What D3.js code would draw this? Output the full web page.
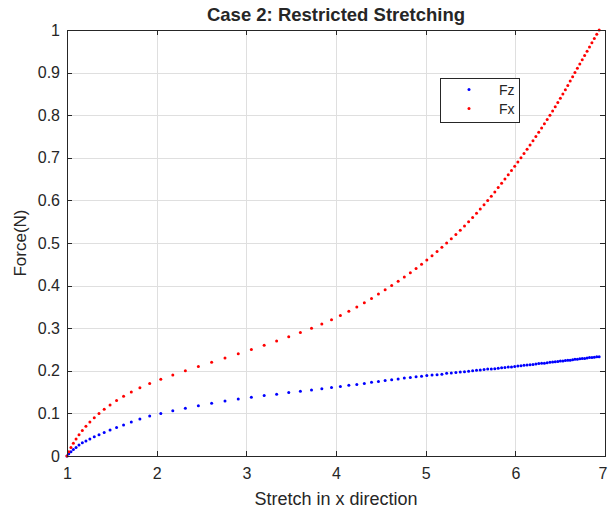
<!DOCTYPE html>
<html>
<head>
<meta charset="utf-8">
<script src="https://cdn.jsdelivr.net/npm/d3@7/dist/d3.min.js"></script>
<style>
  body { margin: 0; background: #fff; }
  text { font-family: "Liberation Sans", Arial, Helvetica, sans-serif; fill: #262626; }
</style>
</head>
<body>
<svg id="here"></svg>
<script>
// stretch (x) values, one per force step
const stretch = [
  1.000, 1.020, 1.044, 1.071, 1.101, 1.134, 1.171, 1.211, 1.255, 1.304,
  1.357, 1.415, 1.480, 1.553, 1.631, 1.717, 1.813, 1.922, 2.046, 2.180,
  2.320, 2.465, 2.613, 2.762, 2.910, 3.056, 3.199, 3.338, 3.473, 3.603,
  3.727, 3.842, 3.950, 4.049, 4.143, 4.232, 4.316, 4.396, 4.473, 4.548,
  4.621, 4.693, 4.762, 4.829, 4.893, 4.954, 5.013, 5.071, 5.127, 5.181,
  5.234, 5.286, 5.337, 5.386, 5.433, 5.479, 5.524, 5.567, 5.609, 5.651,
  5.692, 5.732, 5.771, 5.809, 5.847, 5.884, 5.921, 5.957, 5.993, 6.028,
  6.063, 6.097, 6.131, 6.164, 6.197, 6.229, 6.261, 6.293, 6.324, 6.355,
  6.386, 6.416, 6.445, 6.474, 6.502, 6.530, 6.558, 6.585, 6.612, 6.639,
  6.665, 6.692, 6.719, 6.746, 6.773, 6.800, 6.827, 6.854, 6.881, 6.908,
  6.935
];
const fx = [
  0.00, 0.01, 0.02, 0.03, 0.04, 0.05, 0.06, 0.07, 0.08, 0.09,
  0.10, 0.11, 0.12, 0.13, 0.14, 0.15, 0.16, 0.17, 0.18, 0.19,
  0.20, 0.21, 0.22, 0.23, 0.24, 0.25, 0.26, 0.27, 0.28, 0.29,
  0.30, 0.31, 0.32, 0.33, 0.34, 0.35, 0.36, 0.37, 0.38, 0.39,
  0.40, 0.41, 0.42, 0.43, 0.44, 0.45, 0.46, 0.47, 0.48, 0.49,
  0.50, 0.51, 0.52, 0.53, 0.54, 0.55, 0.56, 0.57, 0.58, 0.59,
  0.60, 0.61, 0.62, 0.63, 0.64, 0.65, 0.66, 0.67, 0.68, 0.69,
  0.70, 0.71, 0.72, 0.73, 0.74, 0.75, 0.76, 0.77, 0.78, 0.79,
  0.80, 0.81, 0.82, 0.83, 0.84, 0.85, 0.86, 0.87, 0.88, 0.89,
  0.90, 0.91, 0.92, 0.93, 0.94, 0.95, 0.96, 0.97, 0.98, 0.99,
  1.00
];
const fz = [
  0.000, 0.005, 0.010, 0.015, 0.020, 0.026, 0.031, 0.035, 0.040, 0.045,
  0.050, 0.055, 0.061, 0.067, 0.073, 0.080, 0.087, 0.094, 0.100, 0.106,
  0.112, 0.118, 0.124, 0.129, 0.134, 0.138, 0.142, 0.145, 0.149, 0.152,
  0.155, 0.158, 0.161, 0.163, 0.166, 0.168, 0.170, 0.173, 0.175, 0.177,
  0.179, 0.181, 0.183, 0.184, 0.186, 0.187, 0.189, 0.190, 0.191, 0.192,
  0.194, 0.195, 0.196, 0.197, 0.198, 0.199, 0.200, 0.201, 0.202, 0.203,
  0.204, 0.2045, 0.205, 0.206, 0.207, 0.208, 0.209, 0.209, 0.210, 0.211,
  0.212, 0.213, 0.2135, 0.214, 0.215, 0.216, 0.217, 0.2175, 0.218, 0.219,
  0.220, 0.2205, 0.221, 0.222, 0.223, 0.223, 0.224, 0.225, 0.225, 0.226,
  0.227, 0.227, 0.228, 0.229, 0.229, 0.230, 0.231, 0.231, 0.232, 0.233,
  0.233
];
const xTicks = [1, 2, 3, 4, 5, 6, 7];
const yTicks = [0, 0.1, 0.2, 0.3, 0.4, 0.5, 0.6, 0.7, 0.8, 0.9, 1];
const yTickLabels = ["0", "0.1", "0.2", "0.3", "0.4", "0.5", "0.6", "0.7", "0.8", "0.9", "1"];
const seriesNames = ["Fz", "Fx"];
const seriesColors = ["#0000ff", "#ff0000"];

const width = 608;
const height = 514;
const margin = ({top: 30, right: 3, bottom: 58, left: 67});
const ink = "#262626";

const svg = d3.select("#here")
  .attr("width", width)
  .attr("height", height);

const x = d3.scaleLinear()
  .domain([1, 7])
  .range([margin.left, width - margin.right]);
const y = d3.scaleLinear()
  .domain([0, 1])
  .range([height - margin.bottom, margin.top]);

const plotW = x(7) - x(1);
const plotH = y(0) - y(1);

// grid
svg.append("g")
  .attr("transform", `translate(0,${y(0)})`)
  .call(d3.axisBottom(x).tickValues(xTicks).tickSize(-plotH).tickFormat(""))
  .call(g => g.select(".domain").remove())
  .call(g => g.selectAll("line").attr("stroke", "#dfdfdf").attr("shape-rendering", "crispEdges"));
svg.append("g")
  .attr("transform", `translate(${x(1)},0)`)
  .call(d3.axisLeft(y).tickValues(yTicks).tickSize(-plotW).tickFormat(""))
  .call(g => g.select(".domain").remove())
  .call(g => g.selectAll("line").attr("stroke", "#dfdfdf").attr("shape-rendering", "crispEdges"));

// data
const pts = (ys) => stretch.map((s, i) => ({x: s, y: ys[i]}));
const series = [pts(fz), pts(fx)];
series.forEach((d, k) => {
  svg.append("g")
    .selectAll("circle")
    .data(d)
    .enter()
    .append("circle")
    .attr("cx", p => x(p.x))
    .attr("cy", p => y(p.y))
    .attr("r", 1.5)
    .attr("fill", seriesColors[k]);
});

// axes, ticks pointing inward on all four sides
const styleAxis = g => {
  g.select(".domain").remove();
  g.selectAll("line").attr("stroke", ink).attr("shape-rendering", "crispEdges");
  g.selectAll("text").attr("fill", ink).style("font-size", "16px")
    .style("font-family", '"Liberation Sans", Arial, Helvetica, sans-serif');
};
svg.append("g")
  .attr("transform", `translate(0,${y(0)})`)
  .call(d3.axisBottom(x).tickValues(xTicks).tickSize(-5).tickPadding(12).tickFormat(d3.format("d")))
  .call(styleAxis)
  // last label sits at the window edge, pull it in a little
  .call(g => g.selectAll("text").filter(d => d === 7).attr("dx", -2.5));
svg.append("g")
  .attr("transform", `translate(0,${y(1)})`)
  .call(d3.axisTop(x).tickValues(xTicks).tickSize(-5).tickFormat(""))
  .call(styleAxis);
svg.append("g")
  .attr("transform", `translate(${x(1)},0)`)
  .call(d3.axisLeft(y).tickValues(yTicks).tickSize(-5).tickPadding(7).tickFormat((d, i) => yTickLabels[i]))
  .call(styleAxis);
svg.append("g")
  .attr("transform", `translate(${x(7)},0)`)
  .call(d3.axisRight(y).tickValues(yTicks).tickSize(-5).tickFormat(""))
  .call(styleAxis);

svg.append("rect")
  .attr("x", x(1))
  .attr("y", y(1))
  .attr("width", plotW)
  .attr("height", plotH)
  .attr("fill", "none")
  .attr("stroke", ink)
  .attr("shape-rendering", "crispEdges");

// labels
svg.append("text")
  .attr("x", (x(1) + x(7)) / 2)
  .attr("y", 21)
  .attr("text-anchor", "middle")
  .style("font-size", "18.5px")
  .style("font-weight", "bold")
  .text("Case 2: Restricted Stretching");
svg.append("text")
  .attr("x", (x(1) + x(7)) / 2)
  .attr("y", 505)
  .attr("text-anchor", "middle")
  .style("font-size", "18px")
  .text("Stretch in x direction");
svg.append("text")
  .attr("transform", `translate(26,${(y(0) + y(1)) / 2}) rotate(-90)`)
  .attr("text-anchor", "middle")
  .style("font-size", "17px")
  .text("Force(N)");

// legend
const legend = svg.append("g").attr("transform", "translate(440,78)");
legend.append("rect")
  .attr("width", 79)
  .attr("height", 44)
  .attr("fill", "#fff")
  .attr("stroke", ink)
  .attr("shape-rendering", "crispEdges");
seriesNames.forEach((name, k) => {
  legend.append("circle")
    .attr("cx", 29)
    .attr("cy", 11.5 + k * 19)
    .attr("r", 1.5)
    .attr("fill", seriesColors[k]);
  legend.append("text")
    .attr("x", 59)
    .attr("y", 17 + k * 19)
    .style("font-size", "14px")
    .text(name);
});
</script>
</body>
</html>
